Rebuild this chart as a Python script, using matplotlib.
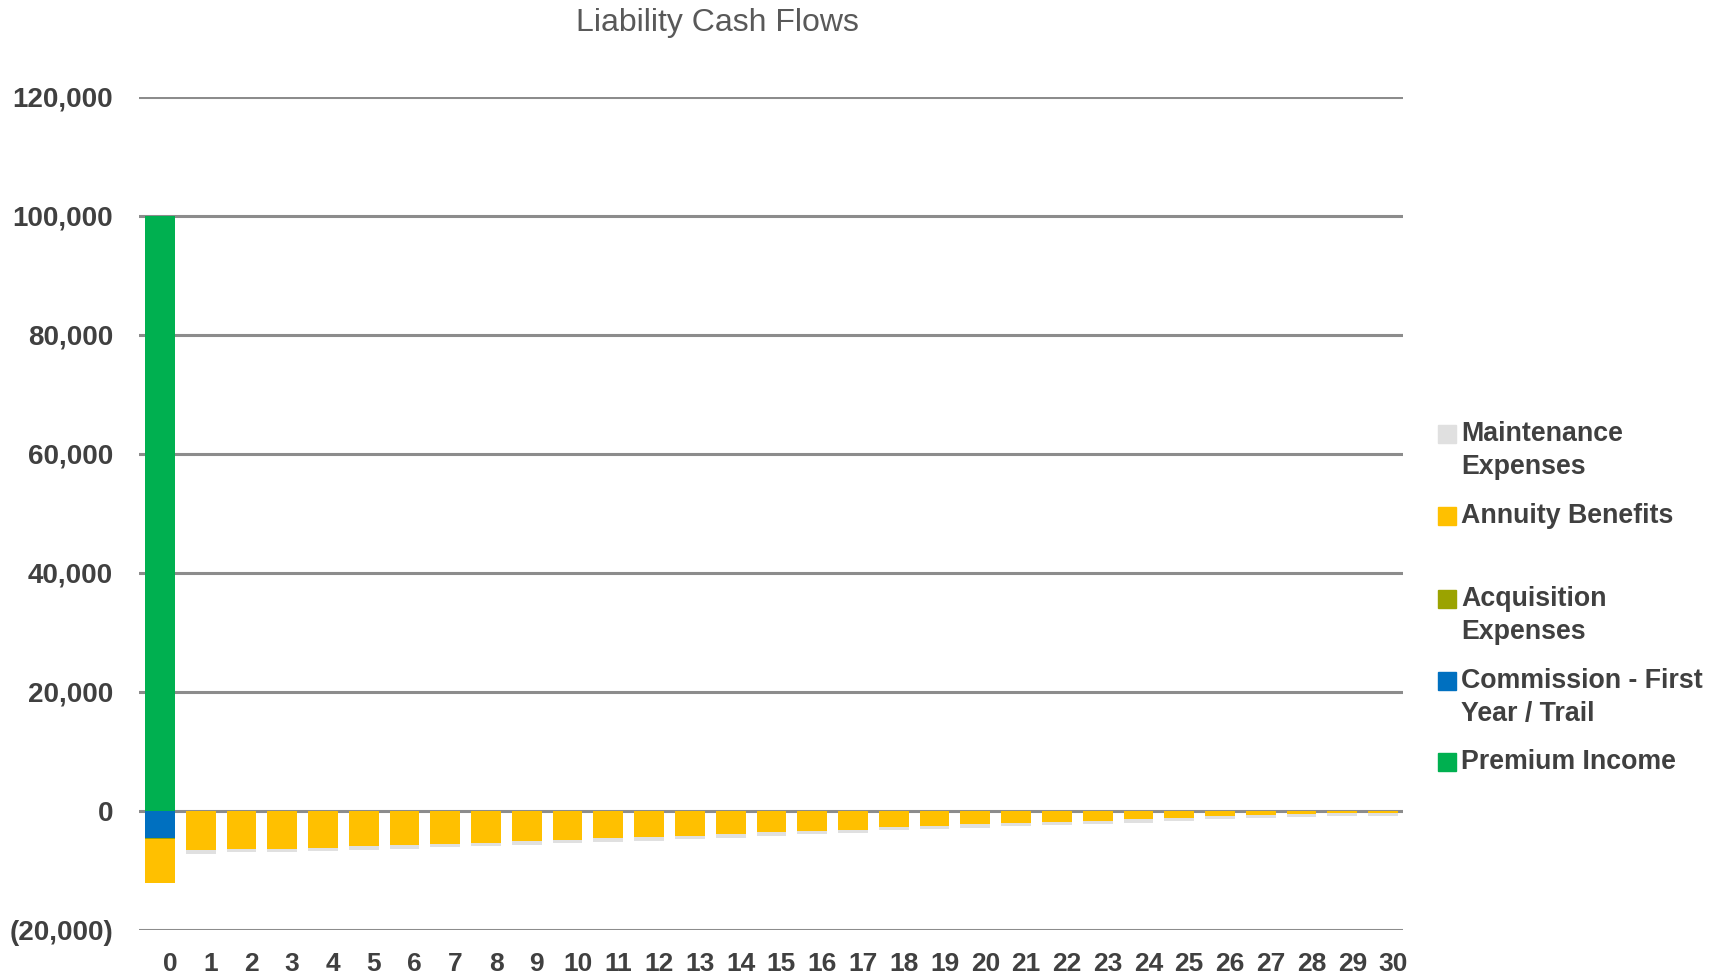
import matplotlib
matplotlib.use('Agg')
import matplotlib.pyplot as plt
import matplotlib.transforms as mtransforms
from matplotlib.patches import Rectangle
from matplotlib.ticker import FuncFormatter
import numpy as np

years = list(range(31))

premium_income = [100000] + [0] * 30
commission = [-4500] + [0] * 30
acquisition = [-150] + [0] * 30
annuity_benefits = [-7400, -6550, -6330, -6330, -6160, -5940, -5720, -5490, -5320, -5040,
                    -4820, -4600, -4430, -4150, -3920, -3590, -3360, -3140, -2690, -2470,
                    -2240, -2020, -1790, -1620, -1400, -1180, -900, -730, -500, -340, -280]
maintenance = [0, -650, -640, -640, -630, -630, -620, -620, -610, -610,
               -600, -600, -600, -590, -590, -580, -580, -570, -570, -560,
               -560, -560, -550, -550, -540, -540, -530, -530, -520, -520, -510]

series_names = ['Premium Income', 'Commission - First\nYear / Trail', 'Acquisition\nExpenses',
                'Annuity Benefits', 'Maintenance\nExpenses']
series_colors = ['#00B050', '#0070C0', '#9BA300', '#FFC000', '#E0E0E0']

text_color = '#404040'
grid_color = '#8C8C8C'

fig = plt.figure(figsize=(17.22, 9.76), dpi=100)
ax = fig.add_axes([0.081, 0.0471, 0.734, 0.854])

x = np.arange(len(years))
width = 0.73

ax.bar(x, premium_income, width, color=series_colors[0], zorder=2)
neg_bottom = np.zeros(len(years))
for vals, col in zip([commission, acquisition, annuity_benefits, maintenance], series_colors[1:]):
    vals = np.array(vals, dtype=float)
    ax.bar(x, vals, width, bottom=neg_bottom, color=col, zorder=2)
    neg_bottom += vals

ax.set_xlim(-0.5, len(years) - 0.5)
ax.set_ylim(-20000, 120000)
ax.set_yticks(np.arange(-20000, 120001, 20000))
ax.yaxis.set_major_formatter(FuncFormatter(
    lambda v, p: f'({abs(v):,.0f})' if v < 0 else f'{v:,.0f}'))
ax.set_xticks(x)
ax.set_xticklabels([str(y) for y in years])

ax.grid(axis='y', color=grid_color, linewidth=2.2, zorder=0)
ax.set_axisbelow(True)
for s in ax.spines.values():
    s.set_visible(False)
ax.tick_params(axis='both', length=0, labelsize=19, labelcolor=text_color)
ax.tick_params(axis='x', pad=16)
ax.tick_params(axis='y', pad=19, labelsize=20)
for lbl in ax.get_xticklabels() + ax.get_yticklabels():
    lbl.set_fontfamily('Liberation Sans')
    lbl.set_fontweight('bold')
shift = mtransforms.ScaledTranslation(10 / 100, 0, fig.dpi_scale_trans)
for lbl in ax.get_xticklabels():
    lbl.set_transform(lbl.get_transform() + shift)

fig.text(717 / 1722, 1 - 23 / 976, 'Liability Cash Flows', ha='center', va='center',
         fontsize=23, color='#595959', family='Liberation Sans')

# legend drawn by hand, entries listed top to bottom (reverse of stacking)
legend_rows = [434, 516, 599, 681, 762]
line_gap = 33
sq = 17.5
for name, col, ypx in zip(series_names[::-1], series_colors[::-1], legend_rows):
    fig.patches.append(Rectangle((1438 / 1722, 1 - (ypx + sq / 2) / 976), sq / 1722, sq / 976,
                                 transform=fig.transFigure, color=col))
    for i, line in enumerate(name.split('\n')):
        fig.text(1461 / 1722, 1 - (ypx + i * line_gap) / 976, line, ha='left', va='center',
                 fontsize=19.3, color=text_color, family='Liberation Sans', fontweight='bold')

fig.savefig('out.png', dpi=100)
